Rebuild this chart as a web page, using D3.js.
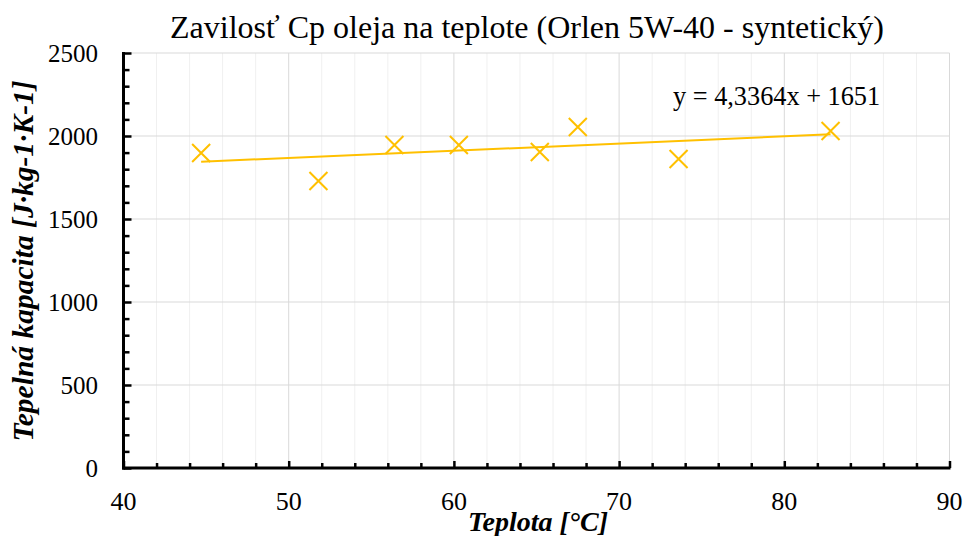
<!DOCTYPE html>
<html><head><meta charset="utf-8">
<script src="https://cdn.jsdelivr.net/npm/d3@7"></script>
<style>body{margin:0;background:#fff}svg{display:block}</style>
</head><body>
<script>
const title = "Zavilosť Cp oleja na teplote (Orlen 5W-40 - syntetický)";
const xLabel = "Teplota [°C]";
const yLabel = "Tepelná kapacita [J·kg-1·K-1]";
const temps = [44.7, 51.8, 56.4, 60.3, 65.2, 67.5, 73.6, 82.8];
const cp = [1898, 1729, 1946, 1946, 1904, 2054, 1861, 2030];
const slope = 4.3364, intercept = 1651;
const equation = "y = 4,3364x + 1651";
const xTicks = [40, 50, 60, 70, 80, 90];
const yTicks = [0, 500, 1000, 1500, 2000, 2500];

const W = 966, H = 536;
const svg = d3.select("body").append("svg").attr("width", W).attr("height", H);
const x = d3.scaleLinear().domain([40, 90]).range([123.5, 949.5]);
const y = d3.scaleLinear().domain([0, 2500]).range([468, 53]);
const font = "'Liberation Serif','Times New Roman',serif";
const gold = "#FFC000";

// gridlines
const xMinor = d3.range(40, 90.001, 2);
svg.append("g").selectAll("line").data(xMinor.filter(v => v % 10 !== 0)).join("line")
  .attr("x1", d => x(d)).attr("x2", d => x(d)).attr("y1", y(0)).attr("y2", y(2500))
  .attr("stroke", "#f0f0f0").attr("stroke-width", 1);
svg.append("g").selectAll("line").data(xTicks.slice(1)).join("line")
  .attr("x1", d => x(d)).attr("x2", d => x(d)).attr("y1", y(0)).attr("y2", y(2500))
  .attr("stroke", "#d9d9d9").attr("stroke-width", 1);
svg.append("g").selectAll("line").data(yTicks.slice(1)).join("line")
  .attr("x1", x(40)).attr("x2", x(90)).attr("y1", d => y(d)).attr("y2", d => y(d))
  .attr("stroke", "#d9d9d9").attr("stroke-width", 1);

// trendline
const xMin = d3.min(temps), xMax = d3.max(temps);
svg.append("line")
  .attr("x1", x(xMin)).attr("y1", y(slope * xMin + intercept))
  .attr("x2", x(xMax)).attr("y2", y(slope * xMax + intercept))
  .attr("stroke", gold).attr("stroke-width", 2);

// markers
const s = 9;
const pts = svg.append("g").selectAll("g").data(temps.map((t, i) => [t, cp[i]])).join("g")
  .attr("transform", d => `translate(${x(d[0])},${y(d[1])})`);
pts.append("path").attr("d", `M${-s},${-s}L${s},${s}M${-s},${s}L${s},${-s}`)
  .attr("stroke", gold).attr("stroke-width", 2).attr("fill", "none");

// axes
const yAxisMinor = d3.axisRight(y).tickValues(d3.range(0, 2501, 100).filter(v => v % 500 !== 0))
  .tickSize(6).tickFormat("");
svg.append("g").attr("transform", `translate(${x(40)},0)`).call(yAxisMinor)
  .call(g => g.select(".domain").remove())
  .selectAll("line").attr("stroke", "#000").attr("stroke-width", 2.5);
const yAxisMajor = d3.axisRight(y).tickValues(yTicks).tickSize(8).tickFormat("");
svg.append("g").attr("transform", `translate(${x(40)},0)`).call(yAxisMajor)
  .call(g => g.select(".domain").remove())
  .selectAll("line").attr("stroke", "#000").attr("stroke-width", 2.5);
const xAxisMinor = d3.axisTop(x).tickValues(xMinor.filter(v => v % 10 !== 0)).tickSize(5).tickFormat("");
svg.append("g").attr("transform", `translate(0,${y(0)})`).call(xAxisMinor)
  .call(g => g.select(".domain").remove())
  .selectAll("line").attr("stroke", "#000").attr("stroke-width", 2.5);
const xAxisMajor = d3.axisTop(x).tickValues(xTicks).tickSize(7).tickFormat("");
svg.append("g").attr("transform", `translate(0,${y(0)})`).call(xAxisMajor)
  .call(g => g.select(".domain").remove())
  .selectAll("line").attr("stroke", "#000").attr("stroke-width", 2.5);
svg.append("line").attr("x1", x(40)).attr("x2", x(40)).attr("y1", y(2500) - 1).attr("y2", y(0) + 1.5)
  .attr("stroke", "#000").attr("stroke-width", 3);
svg.append("line").attr("x1", x(40) - 1.5).attr("x2", x(90) + 1).attr("y1", y(0)).attr("y2", y(0))
  .attr("stroke", "#000").attr("stroke-width", 3);

// tick labels
svg.append("g").selectAll("text").data(yTicks).join("text")
  .attr("x", 98).attr("y", d => y(d)).attr("dy", "0.35em").attr("text-anchor", "end")
  .attr("font-family", font).attr("font-size", 25).text(d => d);
svg.append("g").selectAll("text").data(xTicks).join("text")
  .attr("x", d => x(d)).attr("y", 510).attr("text-anchor", "middle")
  .attr("font-family", font).attr("font-size", 26).text(d => d);

// titles
svg.append("text").attr("x", 527).attr("y", 38).attr("text-anchor", "middle")
  .attr("font-family", font).attr("font-size", 32).text(title);
svg.append("text").attr("x", 538).attr("y", 531).attr("text-anchor", "middle")
  .attr("font-family", font).attr("font-size", 28).attr("font-weight", "bold").attr("font-style", "italic")
  .text(xLabel);
svg.append("text").attr("transform", "translate(33,261) rotate(-90)").attr("text-anchor", "middle")
  .attr("font-family", font).attr("font-size", 29.5).attr("font-weight", "bold").attr("font-style", "italic")
  .text(yLabel);
svg.append("text").attr("x", 673).attr("y", 105)
  .attr("font-family", font).attr("font-size", 26.3).text(equation);
</script>
</body></html>
